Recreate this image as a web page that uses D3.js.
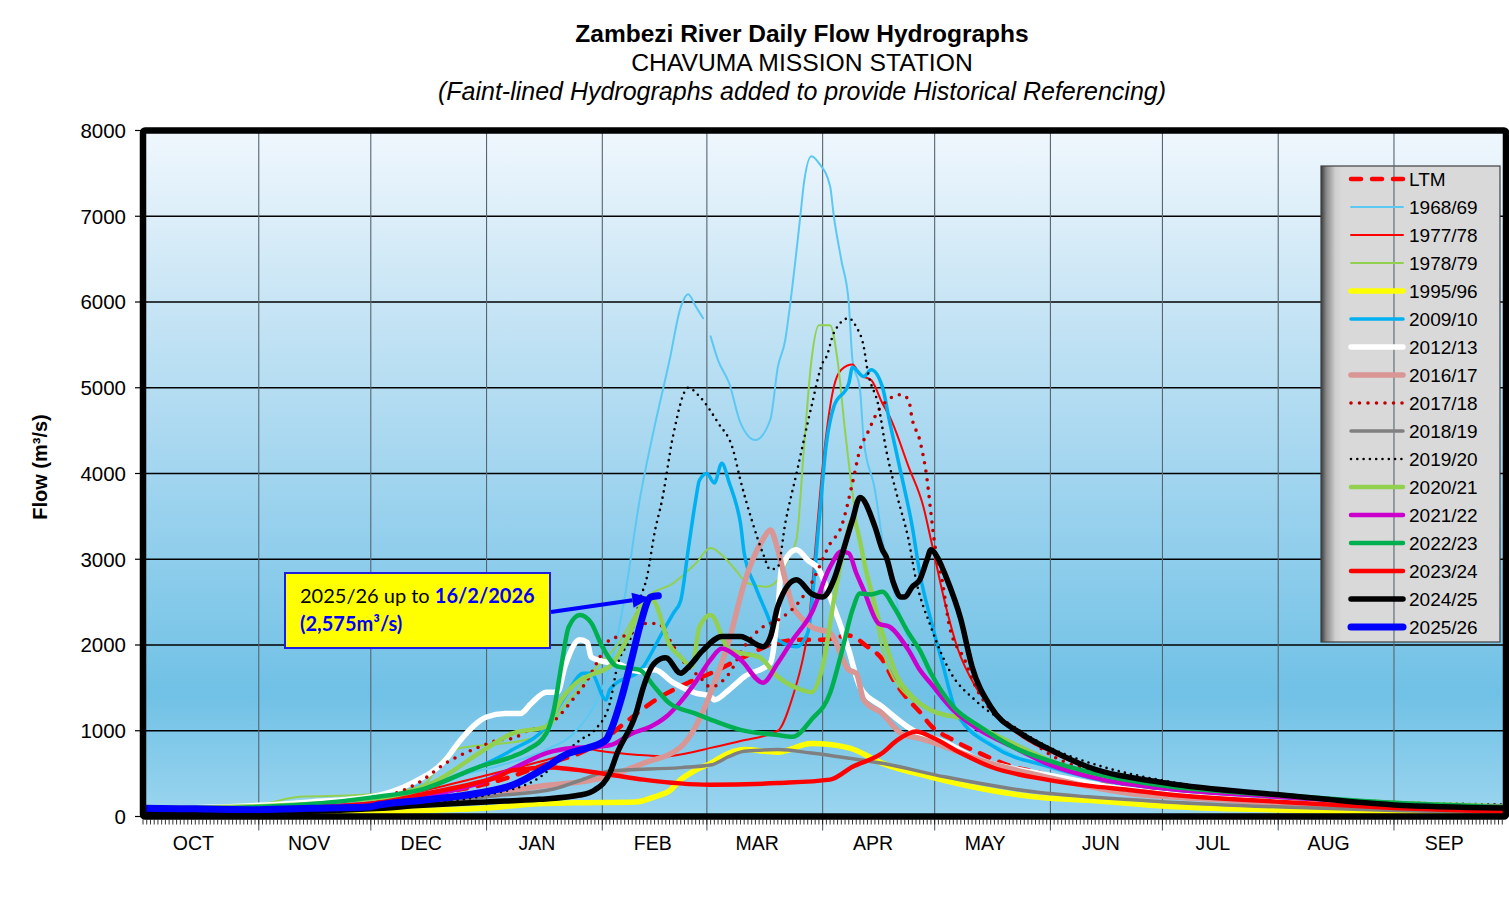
<!DOCTYPE html>
<html>
<head>
<meta charset="utf-8">
<script src="https://cdn.jsdelivr.net/npm/d3@7"></script>
<style>
  body { margin: 0; background: #fff; }
  svg { display: block; font-family: "Liberation Sans", Arial, sans-serif; }
</style>
</head>
<body>
<svg id="chart" width="1509" height="919"></svg>
<script>
var ltm = [["10-01",80],["10-15",85],["11-01",95],["11-15",120],["12-01",170],["12-15",250],["01-01",380],["01-15",580],["02-01",880],["02-07",1090],["02-16",1380],["02-24",1560],["03-02",1670],["03-10",1840],["03-20",2030],["03-26",2060],["04-01",2060],["04-08",2110],["04-13",1980],["04-17",1830],["04-20",1590],["04-24",1360],["04-27",1220],["04-30",1060],["05-06",890],["05-13",740],["05-22",580],["05-29",510],["06-01",470],["06-15",370],["07-01",290],["07-15",240],["08-01",190],["08-15",160],["09-01",130],["09-15",110],["09-30",95]]

var f1968 = [["10-01",90],["11-01",110],["12-01",200],["12-15",380],["12-25",480],["01-05",600],["01-17",780],["01-25",1000],["02-01",1500],["02-04",1900],["02-07",2560],["02-11",3690],["02-15",4550],["02-19",5320],["02-22",5940],["02-24",6090],["02-26",5950],["02-28",5810],["03-01",null],["03-02",5600],["03-04",5320],["03-07",5050],["03-10",4590],["03-14",4390],["03-18",4630],["03-20",5240],["03-22",5560],["03-23",5870],["03-26",6990],["03-27",7390],["03-29",7700],["03-31",7620],["04-03",7350],["04-04",7000],["04-06",6490],["04-08",5990],["04-09",5320],["04-11",4980],["04-12",4390],["04-15",3810],["04-17",3230],["04-20",2640],["04-23",2180],["04-30",1500],["05-07",1150],["05-13",950],["05-22",720],["06-01",560],["06-15",420],["07-01",320],["08-01",200],["09-01",140],["09-30",110]]

var f1977 = [["10-01",80],["11-01",100],["12-01",180],["12-15",300],["01-01",480],["01-10",580],["01-20",700],["01-26",800],["02-01",760],["02-10",720],["02-18",700],["02-24",740],["03-02",800],["03-10",880],["03-20",1000],["03-24",1400],["03-27",1900],["03-28",2140],["03-30",3100],["04-01",4080],["04-04",5010],["04-06",5210],["04-09",5270],["04-11",5150],["04-14",5090],["04-17",4820],["04-19",4660],["04-24",4080],["04-28",3610],["04-30",3230],["05-04",2450],["05-07",1980],["05-12",1510],["05-17",1240],["05-22",1010],["06-01",750],["06-15",520],["07-01",380],["08-01",230],["09-01",150],["09-30",110]]

var f1978 = [["10-01",100],["10-20",120],["11-01",140],["11-12",230],["11-28",250],["12-12",320],["12-16",400],["12-20",650],["12-25",800],["01-05",850],["01-12",900],["01-17",1000],["01-22",1300],["01-26",1500],["01-29",1670],["02-05",2000],["02-13",2560],["02-20",2720],["02-26",2950],["03-02",3130],["03-05",3050],["03-08",2910],["03-12",2720],["03-17",2680],["03-20",2760],["03-23",3030],["03-25",3230],["03-27",4300],["03-29",5320],["03-31",5730],["04-03",5730],["04-05",5320],["04-07",4500],["04-10",3460],["04-14",2600],["04-17",1940],["04-25",1360],["05-06",1160],["05-13",1010],["05-22",800],["06-01",620],["06-15",450],["07-01",330],["08-01",210],["09-01",140],["09-30",100]]

var f1995 = [["10-01",25],["11-01",25],["12-01",45],["12-15",70],["01-01",100],["01-15",150],["01-25",160],["02-10",170],["02-15",230],["02-19",300],["02-22",430],["02-26",540],["03-02",620],["03-07",740],["03-11",780],["03-20",750],["03-29",850],["04-08",800],["04-17",620],["04-30",460],["05-13",330],["05-31",215],["06-11",190],["07-02",120],["08-02",75],["09-01",45],["09-30",20]]

var f2009 = [["10-01",80],["11-01",100],["12-01",200],["12-15",320],["12-30",580],["01-08",780],["01-17",1050],["01-22",1400],["01-27",1670],["01-29",1670],["02-02",1360],["02-03",1480],["02-12",1750],["02-17",2140],["02-20",2370],["02-22",2520],["02-24",3110],["02-26",3690],["02-27",3920],["03-01",4000],["03-03",3890],["03-05",4120],["03-07",3890],["03-09",3620],["03-10",3420],["03-11",3070],["03-14",2680],["03-17",2370],["03-20",2060],["03-25",1980],["03-28",2140],["03-31",3420],["04-02",4350],["04-04",4780],["04-08",5050],["04-09",5240],["04-12",5130],["04-14",5210],["04-17",5010],["04-19",4590],["04-22",4000],["04-25",3380],["04-27",2840],["04-30",2290],["05-03",1800],["05-07",1200],["05-17",810],["06-01",580],["06-15",420],["07-01",320],["08-01",210],["09-01",140],["09-30",100]]

var f2012 = [["10-01",90],["11-01",130],["11-15",170],["12-01",230],["12-12",390],["12-21",660],["12-25",890],["01-01",1160],["01-06",1200],["01-10",1200],["01-13",1320],["01-17",1450],["01-20",1450],["01-22",1750],["01-26",2060],["01-28",2030],["01-29",1860],["02-02",1800],["02-05",1780],["02-11",1690],["02-15",1710],["02-20",1560],["02-26",1440],["03-02",1400],["03-03",1360],["03-07",1480],["03-11",1630],["03-18",1790],["03-20",2400],["03-21",2900],["03-25",3110],["03-28",2990],["03-31",2880],["04-03",2560],["04-08",1940],["04-11",1510],["04-17",1280],["04-25",1010],["05-04",860],["05-13",660],["05-22",560],["06-01",480],["06-15",360],["07-01",270],["08-01",170],["09-01",110],["09-30",80]]

var f2016 = [["10-01",80],["11-01",90],["12-01",130],["12-15",180],["01-01",260],["01-15",350],["02-01",450],["02-12",620],["02-22",810],["02-26",1050],["03-02",1440],["03-07",2060],["03-11",2720],["03-16",3230],["03-18",3340],["03-20",3110],["03-22",2760],["03-24",2450],["03-26",2330],["03-29",2210],["04-03",2140],["04-08",1710],["04-10",1670],["04-12",1360],["04-17",1200],["04-22",970],["04-27",910],["05-04",810],["05-13",660],["05-31",460],["06-10",360],["06-22",270],["07-15",200],["08-02",150],["09-01",110],["09-30",80]]

var f2017 = [["10-01",80],["11-01",100],["12-01",200],["12-14",400],["12-21",620],["12-30",810],["01-04",890],["01-08",910],["01-12",1000],["01-17",1050],["01-21",1200],["01-24",1360],["01-28",1590],["01-31",1830],["02-03",2060],["02-09",2140],["02-12",2250],["02-16",2250],["02-19",2060],["02-23",1790],["02-27",1630],["03-02",1510],["03-07",1670],["03-11",1980],["03-16",2210],["03-20",2290],["03-26",2520],["03-29",2720],["04-03",3180],["04-06",3380],["04-09",3890],["04-11",4280],["04-13",4470],["04-16",4740],["04-18",4840],["04-22",4920],["04-24",4860],["04-25",4630],["04-27",4390],["04-29",3920],["04-30",3540],["05-01",3180],["05-03",2760],["05-05",2210],["05-09",1830],["05-12",1510],["05-17",1200],["05-22",1050],["06-01",720],["06-15",500],["07-01",380],["08-01",230],["09-01",150],["09-30",110]]

var f2018 = [["10-01",60],["11-01",65],["12-01",90],["12-15",130],["01-01",230],["01-19",320],["01-26",420],["02-03",530],["02-22",570],["03-02",600],["03-07",700],["03-11",760],["03-20",780],["03-29",740],["04-08",680],["04-17",620],["05-04",460],["05-31",270],["06-11",230],["07-02",170],["08-02",110],["09-01",70],["09-30",40]]

var f2019 = [["10-01",60],["11-01",70],["12-01",100],["12-15",150],["01-01",250],["01-15",450],["01-26",890],["01-30",1010],["02-03",1320],["02-05",1750],["02-09",2140],["02-11",2520],["02-13",2800],["02-15",3310],["02-17",3690],["02-20",4450],["02-24",5000],["02-27",4900],["03-04",4590],["03-08",4280],["03-10",3920],["03-13",3460],["03-16",3070],["03-18",2880],["03-20",2910],["03-22",3420],["03-25",4000],["03-29",4780],["04-01",5290],["04-02",5360],["04-04",5640],["04-08",5810],["04-10",5710],["04-12",5480],["04-13",5210],["04-16",4780],["04-18",4280],["04-21",3730],["04-24",3230],["04-26",2760],["04-30",2210],["05-05",1700],["05-12",1350],["05-22",1050],["06-01",800],["06-15",580],["07-01",420],["08-01",260],["09-01",170],["09-30",140]]

var f2020 = [["10-01",100],["11-01",120],["12-01",200],["12-12",280],["12-20",450],["12-30",740],["01-08",970],["01-17",1050],["01-21",1360],["01-26",1590],["01-30",1670],["02-03",1750],["02-08",2100],["02-13",2550],["02-15",2500],["02-19",2000],["02-22",1860],["02-25",1750],["02-27",2210],["03-02",2350],["03-07",1940],["03-11",1900],["03-15",1860],["03-20",1630],["03-25",1500],["03-29",1450],["04-01",1750],["04-04",2520],["04-07",3180],["04-09",3460],["04-13",2800],["04-17",2140],["04-21",1630],["04-25",1400],["04-30",1240],["05-04",1180],["05-08",1160],["05-15",1000],["05-22",850],["06-01",650],["06-15",460],["07-01",360],["08-01",240],["09-01",160],["09-30",120]]

var f2021 = [["10-01",90],["11-01",100],["12-01",150],["12-15",230],["01-01",420],["01-10",600],["01-17",740],["01-24",800],["01-29",810],["02-03",830],["02-09",970],["02-14",1050],["02-18",1160],["02-22",1340],["02-26",1570],["03-02",1830],["03-05",1960],["03-10",1830],["03-16",1560],["03-20",1790],["03-24",2060],["03-29",2370],["04-03",2910],["04-06",3090],["04-08",3070],["04-10",2840],["04-12",2640],["04-16",2250],["04-19",2210],["04-24",1940],["04-27",1710],["04-30",1550],["05-06",1240],["05-13",1010],["05-22",810],["05-31",620],["06-15",430],["07-01",330],["08-01",230],["09-01",150],["09-30",110]]

var f2022 = [["10-01",85],["11-01",110],["12-01",220],["12-15",320],["12-30",580],["01-08",700],["01-12",780],["01-17",970],["01-19",1240],["01-21",1750],["01-23",2210],["01-26",2350],["01-29",2260],["02-01",1980],["02-05",1750],["02-11",1710],["02-15",1510],["02-19",1320],["02-26",1200],["03-02",1130],["03-10",1010],["03-20",950],["03-24",930],["03-29",1130],["04-03",1440],["04-06",1900],["04-09",2410],["04-11",2600],["04-14",2590],["04-17",2620],["04-20",2450],["04-24",2140],["04-27",1940],["04-30",1670],["05-06",1280],["05-13",1050],["05-22",810],["05-31",660],["06-15",480],["07-01",360],["08-01",250],["09-01",160],["09-30",110]]

var f2023 = [["10-01",70],["11-01",85],["12-01",150],["12-15",260],["12-30",400],["01-04",460],["01-08",540],["01-19",570],["01-22",560],["02-03",490],["02-12",430],["03-02",370],["03-20",390],["04-03",430],["04-09",580],["04-17",740],["04-21",890],["04-26",990],["04-30",930],["05-08",740],["05-16",580],["05-31",430],["06-11",360],["06-22",310],["07-02",260],["08-02",170],["09-01",100],["09-30",55]]

var f2024 = [["10-01",60],["11-01",50],["12-01",90],["12-15",130],["01-01",170],["01-15",200],["01-26",250],["01-30",310],["02-03",505],["02-05",740],["02-10",1200],["02-12",1510],["02-15",1790],["02-18",1850],["02-22",1670],["02-24",1740],["02-28",1940],["03-05",2100],["03-10",2100],["03-16",1980],["03-18",2090],["03-20",2450],["03-25",2760],["03-29",2600],["04-01",2560],["04-04",2760],["04-06",3030],["04-09",3460],["04-11",3720],["04-15",3380],["04-17",3110],["04-18",3030],["04-20",2720],["04-22",2560],["04-23",2560],["04-25",2680],["04-27",2760],["04-29",3000],["04-30",3110],["05-02",3000],["05-04",2800],["05-08",2300],["05-11",1750],["05-16",1280],["05-24",970],["05-31",800],["06-11",580],["07-02",390],["08-02",250],["09-01",135],["09-30",100]]

var f2025 = [["10-01",95],["10-15",90],["11-01",80],["11-15",95],["12-01",115],["12-03",134],["12-15",190],["12-30",274],["01-08",367],["01-17",578],["01-22",717],["01-28",799],["02-02",892],["02-03",974],["02-06",1360],["02-09",1860],["02-11",2210],["02-14",2560],["02-16",2575]]

var seriesNames = ["LTM","1968/69","1977/78","1978/79","1995/96","2009/10","2012/13","2016/17","2017/18","2018/19","2019/20","2020/21","2021/22","2022/23","2023/24","2024/25","2025/26"]
var seriesData = [ltm, f1968, f1977, f1978, f1995, f2009, f2012, f2016, f2017, f2018, f2019, f2020, f2021, f2022, f2023, f2024, f2025]

var monthLabels = ["OCT","NOV","DEC","JAN","FEB","MAR","APR","MAY","JUN","JUL","AUG","SEP"]
var yTicks = [0,1000,2000,3000,4000,5000,6000,7000,8000]

// line styles, one per series name
var styles = {
  "LTM":     {color: "#ff0000", width: 4.5, dash: "10 11", cap: "round"},
  "1968/69": {color: "#5cc8f2", width: 2},
  "1977/78": {color: "#ff0000", width: 2},
  "1978/79": {color: "#92d050", width: 2},
  "1995/96": {color: "#ffff00", width: 5.5},
  "2009/10": {color: "#00b0f0", width: 3.5},
  "2012/13": {color: "#ffffff", width: 5.5},
  "2016/17": {color: "#d99694", width: 5.5},
  "2017/18": {color: "#c00000", width: 3.6, dash: "0 8.5", cap: "round"},
  "2018/19": {color: "#808080", width: 3.5},
  "2019/20": {color: "#000000", width: 2.6, dash: "0 6.3", cap: "round"},
  "2020/21": {color: "#92d050", width: 4.5},
  "2021/22": {color: "#cc00cc", width: 4.5},
  "2022/23": {color: "#00b050", width: 4.5},
  "2023/24": {color: "#ff0000", width: 4.5},
  "2024/25": {color: "#000000", width: 5.5},
  "2025/26": {color: "#0000ff", width: 7}
}

function toDate(s){
  var p = s.split('-').map(Number)
  return new Date(p[0] >= 10 ? 2025 : 2026, p[0] - 1, p[1])
}

var svg = d3.select('#chart')
var start = new Date(2025, 9, 1), end = new Date(2026, 9, 1)
var pLeft = 143, pRight = 1506, pTop = 130.5, pBottom = 816.5

var x = d3.scaleTime().domain([start, end]).range([pLeft, pRight])
var y = d3.scaleLinear().domain([0, 8000]).range([pBottom, pTop])

var defs = svg.append('defs')
var bg = defs.append('linearGradient').attr('id', 'bg').attr('x1', 0).attr('y1', 0).attr('x2', 0).attr('y2', 1)
;[[0,'#f0f7fd'],[0.25,'#c8e5f5'],[0.5,'#a2d5ef'],[0.82,'#70c1e6'],[1,'#9bd5ef']].forEach(function(s){
  bg.append('stop').attr('offset', s[0]).attr('stop-color', s[1])
})
var lg = defs.append('linearGradient').attr('id', 'lg').attr('x1', 0).attr('y1', 0).attr('x2', 1).attr('y2', 0)
;[[0,'#3a3a3a'],[0.03,'#8a8a8a'],[0.08,'#cfcfcf'],[0.12,'#d9d9d9'],[1,'#d9d9d9']].forEach(function(s){
  lg.append('stop').attr('offset', s[0]).attr('stop-color', s[1])
})
defs.append('clipPath').attr('id', 'clip').append('rect')
  .attr('x', pLeft).attr('y', pTop).attr('width', pRight - pLeft).attr('height', pBottom - pTop)

// titles
var cx = 802
svg.append('text').attr('x', cx).attr('y', 42).attr('text-anchor', 'middle')
  .style('font-size', '24.5px').style('font-weight', 'bold').text('Zambezi  River Daily Flow Hydrographs')
svg.append('text').attr('x', cx).attr('y', 71).attr('text-anchor', 'middle')
  .style('font-size', '24.7px').text('CHAVUMA MISSION STATION')
svg.append('text').attr('x', cx).attr('y', 100).attr('text-anchor', 'middle')
  .style('font-size', '25px').style('font-style', 'italic')
  .text('(Faint-lined Hydrographs added to provide Historical Referencing)')

// plot background + horizontal grid
svg.append('rect').attr('x', pLeft).attr('y', pTop).attr('width', pRight - pLeft).attr('height', pBottom - pTop)
  .attr('fill', 'url(#bg)')

svg.append('g').selectAll('line').data(yTicks.slice(1, -1)).join('line')
  .attr('x1', pLeft).attr('x2', pRight).attr('y1', d => y(d)).attr('y2', d => y(d))
  .attr('stroke', '#000').attr('stroke-width', 1.3)

// legend box
var lx = 1321, ly = 166, lw = 179, lh = 476
svg.append('rect').attr('x', lx).attr('y', ly).attr('width', lw).attr('height', lh)
  .attr('fill', 'url(#lg)').attr('stroke', '#404040').attr('stroke-width', 1.2)

// vertical month grid
var months = d3.timeMonth.range(start, end)
svg.append('g').selectAll('line').data(months.slice(1)).join('line')
  .attr('x1', d => x(d)).attr('x2', d => x(d)).attr('y1', pTop).attr('y2', pBottom + 14)
  .attr('stroke', '#56656f').attr('stroke-width', 1.1)

var legend = svg.append('g')
seriesNames.forEach(function(name, i){
  var st = styles[name], yy = 179 + i * 28
  legend.append('line').attr('x1', 1351).attr('x2', 1403).attr('y1', yy).attr('y2', yy)
    .attr('stroke', st.color).attr('stroke-width', st.width)
    .attr('stroke-dasharray', st.dash || null).attr('stroke-linecap', st.cap || 'round')
  legend.append('text').attr('x', 1409).attr('y', yy).attr('dy', '0.36em')
    .style('font-size', '19px').text(name)
})

// hydrographs
var line = d3.line()
  .defined(d => d[1] != null)
  .x(d => x(toDate(d[0])))
  .y(d => y(d[1]))
  .curve(d3.curveMonotoneX)

var g = svg.append('g').attr('clip-path', 'url(#clip)')
seriesNames.forEach(function(name, i){
  var st = styles[name]
  g.append('path').attr('d', line(seriesData[i]))
    .attr('fill', 'none').attr('stroke', st.color).attr('stroke-width', st.width)
    .attr('stroke-dasharray', st.dash || null)
    .attr('stroke-linecap', st.cap || 'round').attr('stroke-linejoin', 'round')
})

// frame
svg.append('rect').attr('x', pLeft).attr('y', pTop).attr('width', pRight - pLeft).attr('height', pBottom - pTop)
  .attr('fill', 'none').attr('stroke', '#000').attr('stroke-width', 6.5).attr('rx', 2)

// x axis: daily minor ticks, month labels
svg.append('g').selectAll('line').data(d3.timeDay.range(start, end)).join('line')
  .attr('x1', d => x(d)).attr('x2', d => x(d)).attr('y1', pBottom + 3).attr('y2', pBottom + 8)
  .attr('stroke', '#000').attr('stroke-width', 0.8)

svg.append('g').selectAll('text').data(months).join('text')
  .attr('x', d => x(d3.timeHour.offset(d, 13.5 * 24))).attr('y', 850).attr('text-anchor', 'middle')
  .style('font-size', '19.5px').text((d, i) => monthLabels[i])

// y axis
svg.append('g').selectAll('line').data(yTicks).join('line')
  .attr('x1', pLeft - 8).attr('x2', pLeft).attr('y1', d => y(d)).attr('y2', d => y(d))
  .attr('stroke', '#000').attr('stroke-width', 1.2)
svg.append('g').selectAll('text').data(yTicks).join('text')
  .attr('x', 126).attr('y', d => y(d)).attr('dy', '0.36em').attr('text-anchor', 'end')
  .style('font-size', '20.5px').text(d => d)

svg.append('text').attr('transform', 'translate(47,467) rotate(-90)').attr('text-anchor', 'middle')
  .style('font-size', '20px').style('font-weight', 'bold').text('Flow (m³/s)')

// annotation for latest reading
var last = f2025[f2025.length - 1]
var lastX = x(toDate(last[0])), lastY = y(last[1])
var box = svg.append('g')
box.append('rect').attr('x', 285).attr('y', 573).attr('width', 265).attr('height', 75)
  .attr('fill', '#ffff00').attr('stroke', '#1f1fe0').attr('stroke-width', 2)
var t1 = box.append('text').attr('x', 300).attr('y', 603).style('font-family', 'Lato, "Open Sans", sans-serif').style('font-size', '20px')
t1.append('tspan').attr('fill', '#000').text('2025/26 up to ')
t1.append('tspan').attr('fill', '#0000ff').style('font-weight', 'bold').text(d3.timeFormat('%-d/%-m/%Y')(toDate(last[0])))
box.append('text').attr('x', 300).attr('y', 631).style('font-family', 'Lato, "Open Sans", sans-serif').style('font-size', '20px')
  .attr('fill', '#0000ff').style('font-weight', 'bold').text('(' + d3.format(',')(last[1]) + 'm³/s)')

var ax0 = 551, ay0 = 612, ax1 = lastX - 8, ay1 = lastY + 2
var ang = Math.atan2(ay1 - ay0, ax1 - ax0)
var hl = 18, hw = 7.5
var bx = ax1 - hl * Math.cos(ang), by = ay1 - hl * Math.sin(ang)
svg.append('line').attr('x1', ax0).attr('y1', ay0).attr('x2', bx).attr('y2', by)
  .attr('stroke', '#0000ff').attr('stroke-width', 4)
svg.append('path').attr('fill', '#0000ff')
  .attr('d', 'M' + ax1 + ',' + ay1 +
    'L' + (bx + hw * Math.sin(ang)) + ',' + (by - hw * Math.cos(ang)) +
    'L' + (bx - hw * Math.sin(ang)) + ',' + (by + hw * Math.cos(ang)) + 'Z')
</script>
</body>
</html>
